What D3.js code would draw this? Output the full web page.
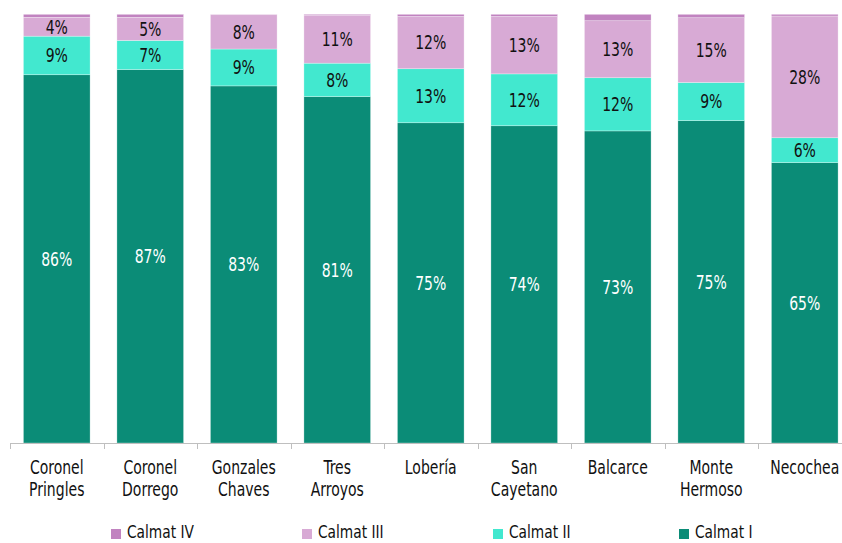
<!DOCTYPE html>
<html>
<head>
<meta charset="utf-8">
<script src="https://cdn.jsdelivr.net/npm/d3@7"></script>
<style>
  body { margin: 0; background: #fff; }
  svg text { font-family: "DejaVu Sans Condensed", "DejaVu Sans", sans-serif; font-stretch: condensed; }
</style>
</head>
<body>
<div id="chart"></div>
<script>
var width = 842,
    height = 543;

var categories = ["Coronel Pringles", "Coronel Dorrego", "Gonzales Chaves", "Tres Arroyos",
                  "Lobería", "San Cayetano", "Balcarce", "Monte Hermoso", "Necochea"];
var calmatI   = [85.9, 87.1, 83.3, 80.8, 74.7, 74.0, 72.8, 75.2, 65.4];
var calmatII  = [9.0, 6.8, 8.6, 7.8, 12.6, 12.1, 12.4, 8.9, 5.8];
var calmatIII = [4.4, 5.4, 8.0, 11.2, 12.2, 13.4, 13.3, 15.1, 28.4];
var calmatIV  = [0.7, 0.7, 0.1, 0.2, 0.5, 0.5, 1.5, 0.8, 0.4];

var keys = ["Calmat I", "Calmat II", "Calmat III", "Calmat IV"];
var colors = { "Calmat I": "#0b8c77", "Calmat II": "#42e8cf", "Calmat III": "#d8aad5", "Calmat IV": "#c183c0" };
var textColors = { "Calmat I": "#ffffff", "Calmat II": "#111111", "Calmat III": "#111111" };
var legendOrder = ["Calmat IV", "Calmat III", "Calmat II", "Calmat I"];

var sx = 0.82; // horizontal squeeze to mimic the narrow typeface

var rows = categories.map(function(c, i){
  return { cat: c, "Calmat I": calmatI[i], "Calmat II": calmatII[i], "Calmat III": calmatIII[i], "Calmat IV": calmatIV[i] };
});

var svg = d3.select("#chart")
  .append("svg")
  .attr("width", width)
  .attr("height", height);

var bandPad = 0.287;
var x = d3.scaleBand().domain(categories).range([10, 851.5])
  .paddingInner(bandPad).paddingOuter(bandPad / 2);
var y = d3.scaleLinear().domain([0, 100]).range([443, 14.3]);

var series = d3.stack().keys(keys)(rows);

var groups = svg.selectAll(".series")
  .data(series)
  .enter()
  .append("g")
  .attr("class", "series")
  .attr("fill", function(d){ return colors[d.key] });

groups.selectAll("rect")
  .data(function(d){ return d })
  .enter()
  .append("rect")
  .attr("x", function(d){ return x(d.data.cat) })
  .attr("width", x.bandwidth())
  .attr("y", function(d){ return y(d[1]) })
  .attr("height", function(d){ return y(d[0]) - y(d[1]) })
  .attr("stroke", "#ffffff")
  .attr("stroke-opacity", 0.5)
  .attr("stroke-width", 0.6);

// data labels (not for Calmat IV)
series.forEach(function(s){
  if (s.key === "Calmat IV") return;
  svg.append("g").selectAll("text")
    .data(s)
    .enter()
    .append("text")
    .attr("transform", function(d){
      return "translate(" + (x(d.data.cat) + x.bandwidth() / 2) + "," + ((y(d[0]) + y(d[1])) / 2) + ") scale(" + sx + ",1)";
    })
    .attr("dy", "0.36em")
    .attr("text-anchor", "middle")
    .attr("font-size", 19)
    .attr("fill", textColors[s.key])
    .text(function(d){ return Math.round(d.data[s.key]) + "%" });
});

// x axis: line with ticks at band boundaries
var axis = svg.append("g");
var step = x.step();
axis.append("line")
  .attr("x1", 10).attr("x2", 851.5)
  .attr("y1", 443.5).attr("y2", 443.5)
  .attr("stroke", "#bfbfbf").attr("stroke-width", 1.2);
axis.selectAll(".tick")
  .data(d3.range(categories.length + 1))
  .enter()
  .append("line")
  .attr("x1", function(i){ return Math.round(10 + i * step) + 0.5 })
  .attr("x2", function(i){ return Math.round(10 + i * step) + 0.5 })
  .attr("y1", 443).attr("y2", 449)
  .attr("stroke", "#bfbfbf").attr("stroke-width", 1);

var catLabels = axis.selectAll(".cat")
  .data(categories)
  .enter()
  .append("text")
  .attr("class", "cat")
  .attr("text-anchor", "middle")
  .attr("font-size", 19)
  .attr("fill", "#111")
  .attr("transform", function(c){ return "translate(" + (x(c) + x.bandwidth() / 2) + ",0) scale(" + sx + ",1)" });
catLabels.each(function(c){
  var t = d3.select(this);
  c.split(" ").forEach(function(w, j){
    t.append("tspan")
      .attr("x", 0)
      .attr("y", 474 + j * 22)
      .text(w);
  });
});

// legend
var legendX = [111, 302, 493, 679];
var legend = svg.append("g").selectAll("g")
  .data(legendOrder)
  .enter()
  .append("g")
  .attr("transform", function(d, i){ return "translate(" + legendX[i] + ",529)" });
legend.append("rect")
  .attr("width", 10).attr("height", 10)
  .attr("fill", function(d){ return colors[d] });
legend.append("text")
  .attr("transform", "translate(16,9) scale(" + (sx + 0.03) + ",1)")
  .attr("font-size", 18)
  .attr("fill", "#111")
  .text(function(d){ return d });
</script>
</body>
</html>
